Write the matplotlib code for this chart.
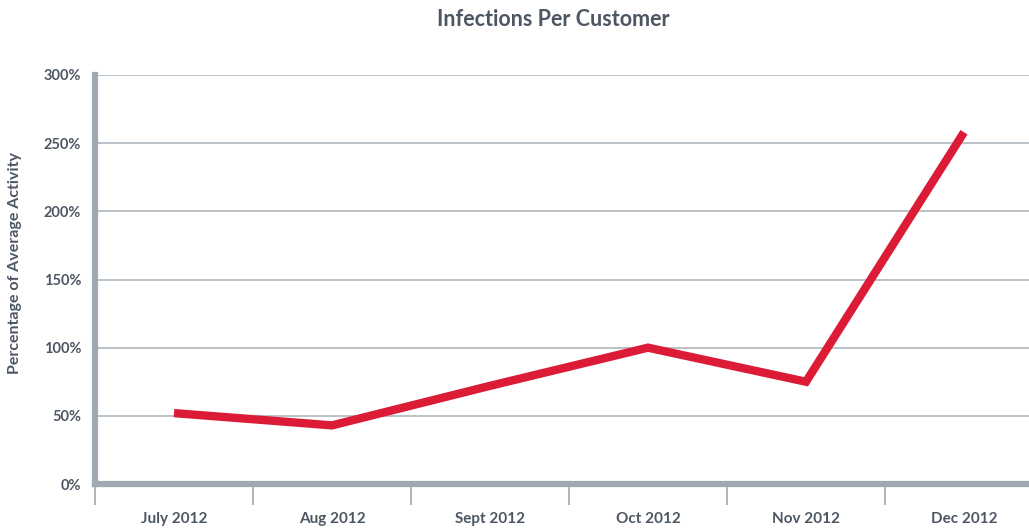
import matplotlib
matplotlib.use("Agg")
import matplotlib.pyplot as plt
from matplotlib.ticker import FixedLocator, PercentFormatter

months = ["July 2012", "Aug 2012", "Sept 2012", "Oct 2012", "Nov 2012", "Dec 2012"]
infections_pct = [52, 43, 72, 100, 75, 258]
y_ticks = [0, 50, 100, 150, 200, 250, 300]

text_color = "#4d5763"
axis_color = "#a0a9b1"
grid_color = "#b4bcc3"
line_color = "#dc1b36"

plt.rcParams["font.family"] = ["Lato", "DejaVu Sans"]

W, H = 1029, 531
fig = plt.figure(figsize=(W / 100, H / 100), dpi=100)

left_px, right_px, top_px, bottom_px = 95, 95 + 6 * 158, 75, 484
ax = fig.add_axes([left_px / W, 1 - bottom_px / H,
                   (right_px - left_px) / W, (bottom_px - top_px) / H])

x = list(range(len(months)))
ax.plot(x, infections_pct, color=line_color, lw=6.0, solid_capstyle="butt",
        solid_joinstyle="miter", zorder=4, clip_on=False)

ax.set_xlim(-0.5, len(months) - 0.5)
ax.set_ylim(0, 300)

ax.yaxis.set_major_locator(FixedLocator(y_ticks))
ax.yaxis.set_major_formatter(PercentFormatter(decimals=0))
ax.grid(axis="y", color=grid_color, lw=1.3, zorder=1)

ax.set_xticks(x)
ax.set_xticklabels(months)
ax.xaxis.set_minor_locator(FixedLocator([i - 0.5 for i in range(len(months) + 1)]))
ax.tick_params(axis="x", which="major", length=0, pad=20)
ax.tick_params(axis="x", which="minor", length=15, width=1.2, color=axis_color,
               direction="out")
ax.tick_params(axis="y", length=0, pad=10)
for lab in ax.get_xticklabels():
    lab.set_fontsize(11)
    lab.set_fontweight("bold")
    lab.set_color(text_color)
for lab in ax.get_yticklabels():
    lab.set_fontsize(10.5)
    lab.set_fontweight("bold")
    lab.set_color(text_color)

for side in ("top", "right"):
    ax.spines[side].set_visible(False)
for side in ("left", "bottom"):
    ax.spines[side].set_color(axis_color)
    ax.spines[side].set_linewidth(4.5)
    ax.spines[side].set_zorder(3)

ax.set_ylabel("Percentage of Average Activity", fontsize=11.5, fontweight="bold",
              color=text_color)
ax.yaxis.set_label_coords(-73 / (right_px - left_px), (bottom_px - 263) / (bottom_px - top_px))

fig.text(0.5375, 1 - 20 / H, "Infections Per Customer", ha="center", va="center",
         fontsize=15.5, fontweight="bold", color=text_color)

fig.savefig("out.png", dpi=100, facecolor="white")
